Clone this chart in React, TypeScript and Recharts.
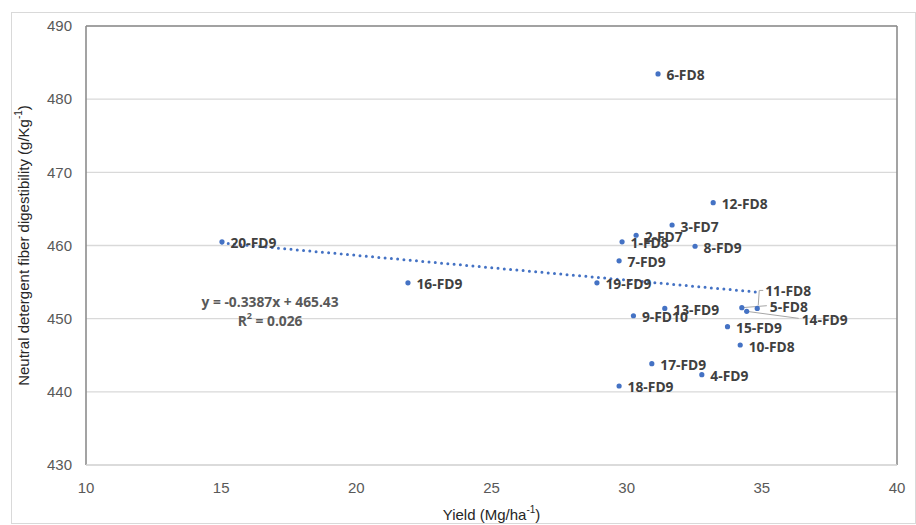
import {
  ScatterChart,
  Scatter,
  XAxis,
  YAxis,
  CartesianGrid,
  ReferenceLine,
  ReferenceDot,
  Label,
} from 'recharts'

// hybrid labels, yield (Mg/ha) and NDF digestibility (g/kg)
const hybrids = [
  '1-FD8', '2-FD7', '3-FD7', '4-FD9', '5-FD8', '6-FD8', '7-FD9', '8-FD9', '9-FD10', '10-FD8',
  '11-FD8', '12-FD8', '13-FD9', '14-FD9', '15-FD9', '16-FD9', '17-FD9', '18-FD9', '19-FD9', '20-FD9',
]
const yieldValues = [
  29.83, 30.35, 31.68, 32.78, 34.26, 31.16, 29.72, 32.53, 30.25, 34.2,
  34.83, 33.2, 31.41, 34.44, 33.73, 21.91, 30.93, 29.72, 28.9, 15.03,
]
const ndfdValues = [
  460.5, 461.4, 462.8, 442.35, 451.5, 483.45, 457.9, 459.9, 450.4, 446.4,
  451.4, 465.85, 451.4, 451.0, 448.9, 454.9, 443.85, 440.8, 454.9, 460.5,
]

const xTicks = [10, 15, 20, 25, 30, 35, 40]
const yTicks = [430, 440, 450, 460, 470, 480, 490]

// linear trend shown on the chart
const trendSlope = -0.3387
const trendIntercept = 465.43
const equationText = 'y = -0.3387x + 465.43'
const r2Text = '0.026'

const BLUE = '#4472C4'
const LABEL_COLOR = '#404040'
const TICK_COLOR = '#595959'
const FRAME = '#8c8c8c'
const GRID = '#d9d9d9'

// hand-placed labels (the crowded ones near 35)
const labelNudge: Record<string, { dx: number; dy: number; leader?: 'up' | 'line' }> = {
  '11-FD8': { dx: 8, dy: -18, leader: 'up' },
  '5-FD8': { dx: 28, dy: -1, leader: 'line' },
  '14-FD9': { dx: 55, dy: 8, leader: 'line' },
}

const points = hybrids.map((name, i) => ({ name, x: yieldValues[i], y: ndfdValues[i] }))

const xMin = Math.min(...yieldValues)
const xMax = Math.max(...yieldValues)

function PointShape(props: any) {
  const { cx, cy, payload } = props
  if (cx == null || cy == null) return null
  const n = labelNudge[payload.name] || { dx: 8.5, dy: 1 }
  const tx = cx + n.dx
  const ty = cy + n.dy
  return (
    <g>
      {n.leader === 'up' && (
        <polyline
          points={`${cx + 1},${cy - 3} ${cx + 2},${ty} ${tx - 2},${ty}`}
          fill="none"
          stroke="#a6a6a6"
          strokeWidth={1}
        />
      )}
      {n.leader === 'line' && (
        <line x1={cx} y1={cy} x2={tx - 3} y2={ty - 1} stroke="#a6a6a6" strokeWidth={1} />
      )}
      <circle cx={cx} cy={cy} r={2.6} fill={BLUE} />
      <text
        x={tx}
        y={ty}
        dominantBaseline="central"
        fontFamily="'Open Sans', sans-serif"
        fontWeight={700}
        fontSize={13.8}
        fill={LABEL_COLOR}
      >
        {payload.name}
      </text>
    </g>
  )
}

function YTitle(props: any) {
  const vb = props.viewBox || { x: 8, y: 26, width: 78, height: 439 }
  const cx = vb.x + 15
  const cy = vb.y + vb.height / 2
  return (
    <text
      x={cx}
      y={cy}
      transform={`rotate(-90, ${cx}, ${cy})`}
      textAnchor="middle"
      dominantBaseline="central"
      fontFamily="'Liberation Sans', Arial, sans-serif"
      fontSize={15}
      fill="#262626"
    >
      Neutral detergent fiber digestibility (g/Kg
      <tspan dy={-5} fontSize={10}>-1</tspan>
      <tspan dy={5}>)</tspan>
    </text>
  )
}

function XTitle(props: any) {
  const vb = props.viewBox || { x: 86, y: 465, width: 811, height: 60 }
  return (
    <text
      x={vb.x + vb.width / 2}
      y={vb.y + 49}
      textAnchor="middle"
      dominantBaseline="central"
      fontFamily="'Liberation Sans', Arial, sans-serif"
      fontSize={15}
      fill="#262626"
    >
      Yield (Mg/ha
      <tspan dy={-5} fontSize={10}>-1</tspan>
      <tspan dy={5}>)</tspan>
    </text>
  )
}

function EquationLabel(props: any) {
  const vb = props.viewBox || { x: 0, y: 0 }
  const cx = vb.x + (vb.width || 0) / 2
  const cy = vb.y + (vb.height || 0) / 2
  const common = {
    textAnchor: 'middle' as const,
    dominantBaseline: 'central' as const,
    fontFamily: "'Open Sans', sans-serif",
    fontWeight: 700,
    fontSize: 13.8,
    fill: TICK_COLOR,
  }
  return (
    <g>
      <text x={cx} y={cy} {...common}>{equationText}</text>
      <text x={cx} y={cy + 19} {...common}>
        R<tspan dy={-5} fontSize={9}>2</tspan>
        <tspan dy={5}> = {r2Text}</tspan>
      </text>
    </g>
  )
}

export default function App() {
  const tickStyle = {
    fontFamily: "'Liberation Sans', Arial, sans-serif",
    fontSize: 15,
    fill: TICK_COLOR,
  }
  return (
    <div style={{ position: 'absolute', left: 0, top: 0, width: 916, height: 525, background: '#fff' }}>
      <div
        style={{
          position: 'absolute',
          left: 11,
          top: 12,
          width: 903,
          height: 510,
          border: '1px solid #d9d9d9',
        }}
      />
      <div style={{ position: 'absolute', left: 0, top: 0 }}>
        <ScatterChart width={916} height={525} margin={{ top: 26, right: 19, bottom: 0, left: 8 }}>
          <CartesianGrid vertical={false} stroke={GRID} strokeWidth={1.3} />
          <XAxis
            type="number"
            dataKey="x"
            domain={[10, 40]}
            ticks={xTicks}
            interval={0}
            height={60}
            tickLine={false}
            axisLine={{ stroke: GRID, strokeWidth: 1.3 }}
            tick={tickStyle}
            tickSize={6}
            tickMargin={11}
            allowDataOverflow
          >
            <Label content={XTitle} />
          </XAxis>
          <YAxis
            type="number"
            dataKey="y"
            domain={[430, 490]}
            ticks={yTicks}
            interval={0}
            width={78}
            tickLine={false}
            axisLine={false}
            tick={tickStyle}
            tickSize={6}
            tickMargin={8}
            allowDataOverflow
          >
            <Label content={YTitle} />
          </YAxis>
          <ReferenceLine y={490} stroke={FRAME} strokeWidth={1.6} />
          <ReferenceLine x={10} stroke={FRAME} strokeWidth={1.6} />
          <ReferenceLine x={40} stroke={FRAME} strokeWidth={1.6} />
          <ReferenceLine
            segment={[
              { x: xMin, y: trendIntercept + trendSlope * xMin },
              { x: xMax, y: trendIntercept + trendSlope * xMax },
            ]}
            stroke={BLUE}
            strokeWidth={3}
            strokeDasharray="0 6.3"
            strokeLinecap="round"
            ifOverflow="visible"
          />
          <Scatter data={points} shape={PointShape} isAnimationActive={false} />
          <ReferenceDot x={16.81} y={452.4} r={0} fill="none" stroke="none" ifOverflow="visible">
            <Label content={EquationLabel} />
          </ReferenceDot>
        </ScatterChart>
      </div>
    </div>
  )
}
